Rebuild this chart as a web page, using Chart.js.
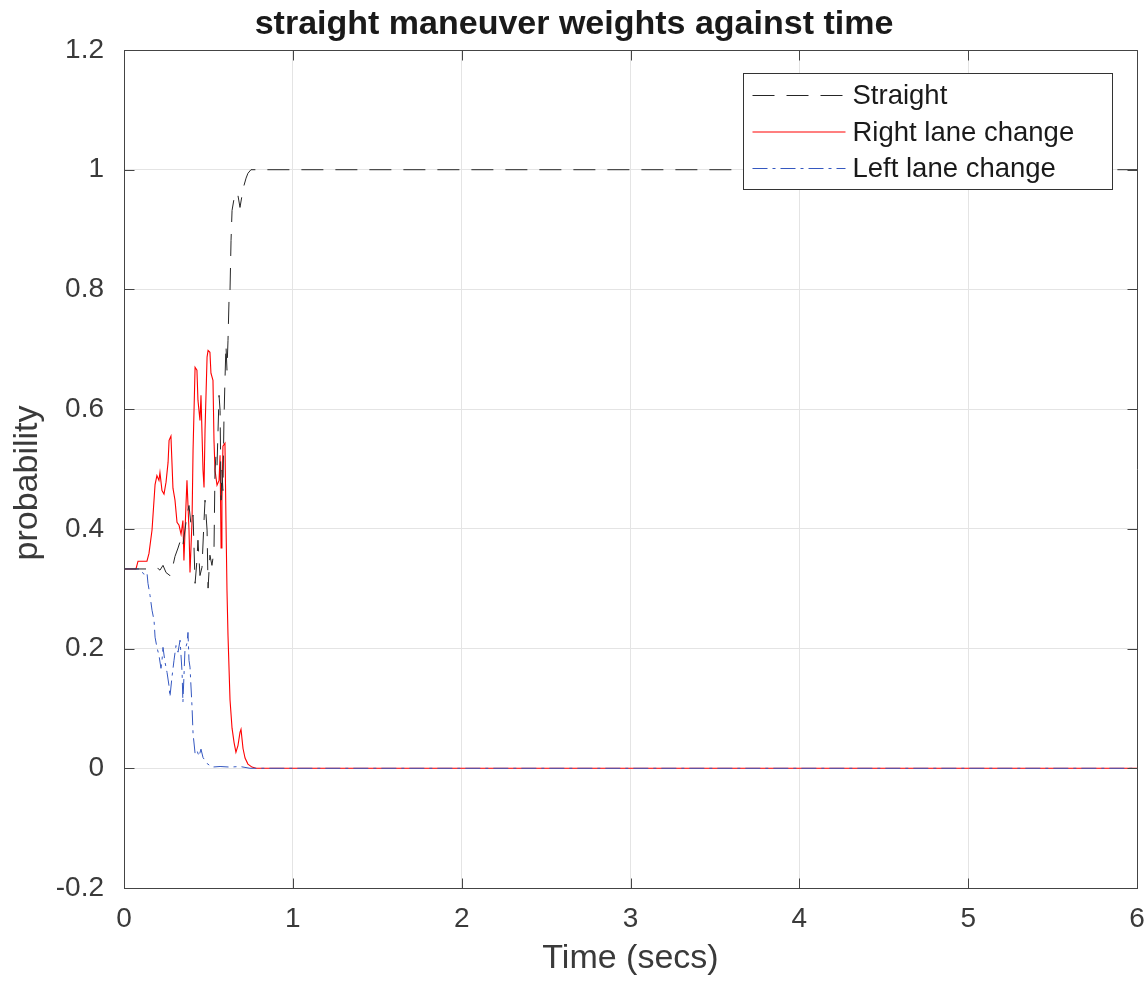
<!DOCTYPE html>
<html>
<head>
<meta charset="utf-8">
<script src="https://cdn.jsdelivr.net/npm/chart.js@4.4.0/dist/chart.umd.min.js"></script>
<style>
  html, body { margin: 0; padding: 0; background: #fff; }
  canvas { display: block; }
</style>
</head>
<body>
<canvas id="weightsChart" width="1148" height="983"></canvas>
<script>
// maneuver weights (probabilities) sampled over time, in seconds
const straightTime = [0, 0.136, 0.154, 0.201, 0.213, 0.231, 0.249, 0.272, 0.284, 0.302, 0.320, 0.338, 0.349, 0.361,
  0.373, 0.385, 0.397, 0.409, 0.421, 0.432, 0.438, 0.450, 0.462, 0.474, 0.480, 0.492, 0.498, 0.509, 0.521, 0.533,
  0.539, 0.545, 0.551, 0.557, 0.563, 0.569, 0.575, 0.580, 0.586, 0.592, 0.598, 0.604, 0.610, 0.616, 0.622, 0.628,
  0.634, 0.640, 0.652, 0.663, 0.675, 0.687, 0.699, 0.711, 0.723, 0.734, 0.752, 6];
const straightProb = [0.333, 0.333, 0.331, 0.334, 0.331, 0.339, 0.327, 0.322, 0.331, 0.354, 0.368, 0.384, 0.373, 0.398,
  0.423, 0.439, 0.406, 0.423, 0.309, 0.347, 0.381, 0.322, 0.336, 0.414, 0.448, 0.398, 0.301, 0.356, 0.339, 0.364,
  0.498, 0.523, 0.506, 0.565, 0.623, 0.598, 0.448, 0.498, 0.464, 0.581, 0.648, 0.707, 0.665, 0.715, 0.782, 0.799,
  0.882, 0.932, 0.952, 0.962, 0.957, 0.937, 0.957, 0.974, 0.986, 0.994, 1.0, 1.0];

const rightTime = [0, 0.071, 0.083, 0.136, 0.148, 0.166, 0.184, 0.195, 0.207, 0.213, 0.225, 0.237, 0.249, 0.261,
  0.267, 0.278, 0.290, 0.302, 0.314, 0.326, 0.338, 0.349, 0.355, 0.367, 0.373, 0.385, 0.391, 0.403, 0.409, 0.421,
  0.432, 0.438, 0.450, 0.456, 0.468, 0.474, 0.480, 0.492, 0.498, 0.509, 0.515, 0.527, 0.533, 0.539, 0.551, 0.563,
  0.569, 0.575, 0.580, 0.586, 0.598, 0.604, 0.610, 0.616, 0.628, 0.640, 0.652, 0.663, 0.675, 0.687, 0.693, 0.705,
  0.717, 0.734, 0.758, 0.782, 6];
const rightProb = [0.333, 0.333, 0.346, 0.346, 0.359, 0.398, 0.474, 0.489, 0.481, 0.494, 0.464, 0.458, 0.478, 0.511,
  0.548, 0.555, 0.468, 0.448, 0.411, 0.406, 0.391, 0.414, 0.347, 0.439, 0.481, 0.398, 0.327, 0.414, 0.531, 0.670,
  0.665, 0.615, 0.581, 0.623, 0.498, 0.469, 0.565, 0.687, 0.698, 0.695, 0.660, 0.648, 0.548, 0.498, 0.473, 0.481,
  0.523, 0.368, 0.448, 0.538, 0.543, 0.414, 0.297, 0.222, 0.114, 0.067, 0.043, 0.027, 0.038, 0.060, 0.065, 0.033,
  0.017, 0.007, 0.002, 0, 0];

const leftTime = [0, 0.095, 0.118, 0.136, 0.142, 0.154, 0.166, 0.178, 0.184, 0.195, 0.207, 0.219, 0.225, 0.231,
  0.243, 0.255, 0.267, 0.272, 0.284, 0.296, 0.308, 0.320, 0.332, 0.344, 0.349, 0.361, 0.373, 0.379, 0.385, 0.391,
  0.403, 0.409, 0.421, 0.432, 0.444, 0.456, 0.468, 0.480, 0.492, 0.521, 0.569, 0.628, 0.687, 0.746, 6];
const leftProb = [0.333, 0.333, 0.324, 0.327, 0.309, 0.289, 0.264, 0.247, 0.219, 0.202, 0.189, 0.167, 0.180, 0.202,
  0.177, 0.160, 0.137, 0.119, 0.152, 0.180, 0.205, 0.194, 0.214, 0.160, 0.110, 0.197, 0.209, 0.227, 0.180, 0.169,
  0.102, 0.058, 0.025, 0.030, 0.020, 0.032, 0.018, 0.013, 0.008, 0.002, 0.003, 0.002, 0.003, 0, 0];

const xTicks = [0, 1, 2, 3, 4, 5, 6];
const yTicks = [-0.2, 0, 0.2, 0.4, 0.6, 0.8, 1, 1.2];

const textColor = '#3a3a3a';
const fontFamily = '"Liberation Sans", Arial, Helvetica, sans-serif';
Chart.defaults.font.family = fontFamily;

function toPoints(times, probs) {
  return times.map((t, i) => ({ x: t, y: probs[i] }));
}

// frame around the axes with inward tick marks, the y label and the boxed legend
const axesBox = {
  id: 'axesBox',
  afterDraw(chart) {
    const { ctx, chartArea: a, scales } = chart;
    const L = Math.round(a.left) + 0.5, R = Math.round(a.right) + 0.5;
    const T = Math.round(a.top) + 0.5, B = Math.round(a.bottom) + 0.5;
    const tick = 10;
    ctx.save();
    ctx.strokeStyle = '#444';
    ctx.lineWidth = 1;
    ctx.beginPath();
    ctx.rect(L, T, R - L, B - T);
    xTicks.forEach(v => {
      const x = Math.round(scales.x.getPixelForValue(v)) + 0.5;
      ctx.moveTo(x, B); ctx.lineTo(x, B - tick);
      ctx.moveTo(x, T); ctx.lineTo(x, T + tick);
    });
    yTicks.forEach(v => {
      const y = Math.round(scales.y.getPixelForValue(v)) + 0.5;
      ctx.moveTo(L, y); ctx.lineTo(L + tick, y);
      ctx.moveTo(R, y); ctx.lineTo(R - tick, y);
    });
    ctx.stroke();

    // y axis label
    ctx.save();
    ctx.translate(28, (a.top + a.bottom) / 2 + 14);
    ctx.rotate(-Math.PI / 2);
    ctx.fillStyle = textColor;
    ctx.font = '34px ' + fontFamily;
    ctx.textAlign = 'center';
    ctx.textBaseline = 'middle';
    ctx.fillText('probability', 0, 0);
    ctx.restore();

    // legend
    const boxW = 369, boxH = 116;
    const bx = Math.round(a.right - 394) + 0.5, by = Math.round(a.top + 23) + 0.5;
    ctx.fillStyle = '#fff';
    ctx.fillRect(bx, by, boxW, boxH);
    ctx.strokeStyle = '#333';
    ctx.strokeRect(bx, by, boxW, boxH);
    ctx.font = '27.5px ' + fontFamily;
    ctx.textBaseline = 'middle';
    ctx.textAlign = 'left';
    chart.data.datasets.forEach((ds, i) => {
      const y = by + 22 + i * 36.5;
      ctx.save();
      ctx.strokeStyle = ds.borderColor;
      ctx.lineWidth = ds.borderWidth;
      ctx.setLineDash(ds.borderDash || []);
      ctx.beginPath();
      ctx.moveTo(bx + 9, y);
      ctx.lineTo(bx + 102, y);
      ctx.stroke();
      ctx.restore();
      ctx.fillStyle = '#1a1a1a';
      ctx.fillText(ds.label, bx + 109, y + 1);
    });
    ctx.restore();
  }
};

new Chart(document.getElementById('weightsChart'), {
  type: 'line',
  data: {
    datasets: [{
      label: 'Straight',
      data: toPoints(straightTime, straightProb),
      borderColor: '#262626',
      borderWidth: 1,
      borderDash: [22, 12],
      order: 0
    }, {
      label: 'Right lane change',
      data: toPoints(rightTime, rightProb),
      borderColor: '#ff0000',
      borderWidth: 1.1,
      order: 2
    }, {
      label: 'Left lane change',
      data: toPoints(leftTime, leftProb),
      borderColor: '#3558c0',
      borderWidth: 1,
      borderDash: [15, 5, 3, 5],
      order: 1
    }]
  },
  options: {
    responsive: false,
    animation: false,
    layout: { padding: 0 },
    elements: {
      line: { tension: 0, fill: false },
      point: { radius: 0, hoverRadius: 0 }
    },
    scales: {
      x: {
        type: 'linear',
        min: 0,
        max: 6,
        afterBuildTicks: s => { s.ticks = xTicks.map(v => ({ value: v })); },
        afterFit: s => {
          s.height = 95;
          s.paddingLeft = 0;
          s.paddingRight = 11;
        },
        grid: { color: '#e4e4e4', drawTicks: false },
        border: { color: '#444' },
        ticks: { padding: 14, color: textColor, font: { size: 28 }, callback: v => String(v) },
        title: {
          display: true,
          text: 'Time (secs)',
          color: textColor,
          font: { size: 34 },
          padding: { top: 0, bottom: 4 }
        }
      },
      y: {
        min: -0.2,
        max: 1.2,
        afterBuildTicks: s => { s.ticks = yTicks.map(v => ({ value: v })); },
        afterFit: s => { s.width = 124; },
        grid: { color: '#e4e4e4', drawTicks: false },
        border: { color: '#444' },
        ticks: { padding: 20, color: textColor, font: { size: 28 }, callback: v => String(Math.round(v * 10) / 10) }
      }
    },
    plugins: {
      legend: { display: false },
      tooltip: { enabled: false },
      title: {
        display: true,
        text: 'straight maneuver weights against time',
        color: '#1a1a1a',
        font: { size: 34, weight: 'bold' },
        padding: { top: 4, bottom: 5.2 }
      }
    }
  },
  plugins: [axesBox]
});
</script>
</body>
</html>
